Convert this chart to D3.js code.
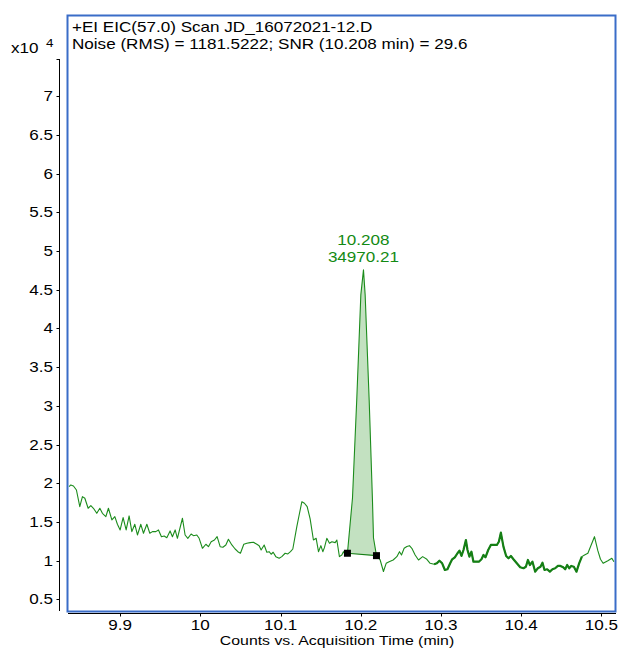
<!DOCTYPE html>
<html>
<head>
<meta charset="utf-8">
<script src="https://cdn.jsdelivr.net/npm/d3@7"></script>
<style>
  html, body { margin: 0; padding: 0; background: #fff; }
  svg { display: block; }
  text { font-family: "Liberation Sans", Arial, sans-serif; }
</style>
</head>
<body>
<svg id="chart" width="619" height="648"></svg>
<script>
// ---- data (retention time in min, abundance in counts) ----
const times = [
  9.8364, 9.8385, 9.8418, 9.8455, 9.8497, 9.8530, 9.8560, 9.8601, 9.8635, 9.8667,
  9.8709, 9.8747, 9.8779, 9.8822, 9.8854, 9.8897, 9.8934, 9.8966, 9.9000, 9.9037,
  9.9075, 9.9112, 9.9146, 9.9183, 9.9216, 9.9258, 9.9291, 9.9333, 9.9370, 9.9403,
  9.9445, 9.9478, 9.9515, 9.9549, 9.9582, 9.9623, 9.9652, 9.9686, 9.9714, 9.9777,
  9.9810, 9.9844, 9.9885, 9.9914, 9.9956, 9.9985, 10.0026, 10.0069, 10.0101, 10.0135,
  10.0176, 10.0209, 10.0247, 10.0281, 10.0318, 10.0350, 10.0393, 10.0434, 10.0468, 10.0500,
  10.0542, 10.0580, 10.0621, 10.0662, 10.0705, 10.0733, 10.0758, 10.0796, 10.0829, 10.0858,
  10.0883, 10.0908, 10.0941, 10.0983, 10.1016, 10.1057, 10.1091, 10.1124, 10.1153, 10.1203,
  10.1232, 10.1266, 10.1298, 10.1332, 10.1369, 10.1410, 10.1444, 10.1473, 10.1503, 10.1527,
  10.1547, 10.1577, 10.1610, 10.1640, 10.1681, 10.1702, 10.1734, 10.1764, 10.1784, 10.1809,
  10.1834, 10.1897, 10.1951, 10.2001, 10.2034, 10.2055, 10.2105, 10.2146, 10.2159, 10.2196,
  10.2242, 10.2283, 10.2317, 10.2354, 10.2404, 10.2450, 10.2483, 10.2508, 10.2541, 10.2575,
  10.2607, 10.2637, 10.2678, 10.2720, 10.2772, 10.2824, 10.2865, 10.2915, 10.2949, 10.2981,
  10.3015, 10.3049, 10.3081, 10.3115, 10.3140, 10.3173, 10.3206, 10.3231, 10.3256, 10.3281,
  10.3311, 10.3331, 10.3355, 10.3380, 10.3405, 10.3439, 10.3473, 10.3505, 10.3530, 10.3555,
  10.3589, 10.3622, 10.3663, 10.3697, 10.3722, 10.3747, 10.3779, 10.3813, 10.3842, 10.3872,
  10.3904, 10.3946, 10.3988, 10.4029, 10.4059, 10.4084, 10.4109, 10.4141, 10.4175, 10.4208,
  10.4241, 10.4266, 10.4291, 10.4324, 10.4358, 10.4390, 10.4424, 10.4458, 10.4490, 10.4524,
  10.4549, 10.4574, 10.4599, 10.4624, 10.4657, 10.4690, 10.4723, 10.4757, 10.4790, 10.4832,
  10.4873, 10.4914, 10.4956, 10.4989, 10.5022, 10.5081, 10.5131, 10.5156
];
const counts = [
  19560, 19780, 19650, 19130, 16980, 18270, 18060, 16770, 17110, 16770,
  16120, 16770, 16120, 15690, 16770, 15260, 15690, 14700, 13970, 15560,
  13970, 15780, 13750, 14700, 13320, 14700, 13540, 14700, 13540, 13750,
  13750, 13970, 13100, 13190, 12970, 13840, 13100, 13970, 12890, 15480,
  13320, 12890, 13450, 13230, 13320, 12890, 11600, 12120, 11810, 12450,
  12670, 13100, 11810, 11730, 12030, 12760, 12030, 11510, 11160, 10960,
  12120, 12250, 12330, 12380, 12120, 11940, 11380, 12030, 11090, 11160,
  10830, 11090, 10520, 10310, 10520, 10960, 10870, 11160, 11510, 14390,
  15900, 17620, 17420, 16980, 15390, 12670, 12890, 11160, 11940, 11160,
  11680, 12890, 12250, 12450, 12330, 12670, 10520, 10740, 11160, 10740,
  10960, 18100, 31020, 44330, 47560, 44330, 30760, 17840, 12930, 10650,
  10090, 8600, 9660, 9870, 10090, 10520, 11160, 10740, 11600, 11830,
  11940, 11600, 10740, 10090, 10520, 10180, 9660, 9530, 9660, 10000,
  9660, 8800, 8890, 9660, 10180, 10440, 10960, 11290, 10610, 11380,
  12670, 11380, 10520, 11160, 9870, 9870, 9870, 10180, 10740, 10440,
  11380, 12030, 12030, 12030, 12450, 13620, 11810, 10610, 10310, 10610,
  10180, 9660, 9150, 9020, 9220, 10090, 9440, 9870, 8580, 9020,
  9220, 9740, 8800, 8890, 8580, 8890, 9020, 9320, 9320, 9150,
  8890, 9440, 9020, 9320, 9220, 8580, 9660, 10520, 10740, 10960,
  12030, 13100, 11290, 10180, 9660, 10000, 10310, 9870
];
// integrated peak: start / end of the integration window
const peakStart = [10.1834, 10960];
const peakEnd = [10.2196, 10650];
const peakLabel = ["10.208", "34970.21"];
const peakApex = [10.2034, 47560];
// segment of the trace drawn with a heavier stroke
const heavyRange = [10.2900, 10.4760];

const xTicks = [9.9, 10.0, 10.1, 10.2, 10.3, 10.4, 10.5];
const xTickLabels = ["9.9", "10", "10.1", "10.2", "10.3", "10.4", "10.5"];
const yTicks = [5000, 10000, 15000, 20000, 25000, 30000, 35000, 40000, 45000, 50000, 55000, 60000, 65000, 70000];
const yTickLabels = ["0.5", "1", "1.5", "2", "2.5", "3", "3.5", "4", "4.5", "5", "5.5", "6", "6.5", "7"];
const headerLines = [
  "+EI EIC(57.0) Scan JD_16072021-12.D",
  "Noise (RMS) = 1181.5222; SNR (10.208 min) = 29.6"
];
const xTitle = "Counts vs. Acquisition Time (min)";
const yExponentBase = "x10";
const yExponent = "4";

// ---- drawing ----
const svg = d3.select("#chart");
const SX = 1.22; // horizontal stretch of the original text
const FS = 14;
const green = "#1c8c1c";

const x = d3.scaleLinear().domain([9.835, 10.517]).range([68, 615]);
const y = d3.scaleLinear().domain([3500, 74800]).range([611, 59]);

const data = times.map((t, i) => ({ t, v: counts[i] }));

function label(g, txt, px, py, anchor, size, fill) {
  return g.append("text")
    .attr("transform", `translate(${px},${py}) scale(${SX},1)`)
    .attr("text-anchor", anchor || "start")
    .attr("font-size", size || FS)
    .attr("fill", fill || "#000")
    .text(txt);
}

svg.append("defs").append("clipPath").attr("id", "plotclip")
  .append("rect").attr("x", 68).attr("y", 16).attr("width", 547).attr("height", 595);

// y axis
const yAxisG = svg.append("g").attr("transform", "translate(59.5,0)");
yAxisG.append("line").attr("x1", 0).attr("x2", 0)
  .attr("y1", y.range()[1]).attr("y2", y.range()[0])
  .attr("stroke", "#000").attr("stroke-width", 1);
yAxisG.append("line").attr("x1", -3).attr("x2", 0)
  .attr("y1", y.range()[1] + 0.5).attr("y2", y.range()[1] + 0.5)
  .attr("stroke", "#000");
yTicks.forEach((v, i) => {
  const yy = Math.round(y(v)) + 0.5;
  yAxisG.append("line").attr("x1", -3).attr("x2", 0).attr("y1", yy).attr("y2", yy).attr("stroke", "#000");
  label(svg, yTickLabels[i], 53, y(v) + 5, "end");
});

// x axis
const xAxisG = svg.append("g").attr("transform", "translate(0,613.5)");
xAxisG.append("line").attr("x1", x.range()[0]).attr("x2", 616)
  .attr("y1", 0).attr("y2", 0).attr("stroke", "#000").attr("stroke-width", 1.2);
xTicks.forEach((t, i) => {
  const xx = Math.round(x(t)) + 0.5;
  xAxisG.append("line").attr("x1", xx).attr("x2", xx).attr("y1", 0).attr("y2", 3).attr("stroke", "#000");
  label(svg, xTickLabels[i], x(t), 630, "middle");
});
label(svg, xTitle, 337, 645.3, "middle", 13);

// exponent
label(svg, yExponentBase, 11, 53, "start");
label(svg, yExponent, 46, 47, "start", 11);

// plot contents
const plot = svg.append("g").attr("clip-path", "url(#plotclip)");

// integrated peak area
const inPeak = data.filter(d => d.t >= peakStart[0] - 1e-6 && d.t <= peakEnd[0] + 1e-6);
const areaPts = inPeak.map(d => [x(d.t), y(d.v)]);
plot.append("path")
  .attr("d", d3.line()(areaPts) + "Z")
  .attr("fill", "#c3e1c1")
  .attr("stroke", "none");

// trace
const line = d3.line().x(d => x(d.t)).y(d => y(d.v));
plot.append("path")
  .attr("d", line(data))
  .attr("fill", "none")
  .attr("stroke", green)
  .attr("stroke-width", 1.1)
  .attr("stroke-linejoin", "round");
plot.append("path")
  .attr("d", line(data.filter(d => d.t >= heavyRange[0] && d.t <= heavyRange[1])))
  .attr("fill", "none")
  .attr("stroke", "#157f15")
  .attr("stroke-width", 2.2)
  .attr("stroke-linejoin", "round");

// baseline
plot.append("line")
  .attr("x1", x(peakStart[0])).attr("y1", y(peakStart[1]))
  .attr("x2", x(peakEnd[0])).attr("y2", y(peakEnd[1]))
  .attr("stroke", "#157f15").attr("stroke-width", 1.2);
[peakStart, peakEnd].forEach(p => {
  plot.append("rect")
    .attr("x", x(p[0]) - 3.5).attr("y", y(p[1]) - 3.5)
    .attr("width", 7).attr("height", 7)
    .attr("fill", "#000");
});

// peak label
label(svg, peakLabel[0], x(peakApex[0]), y(peakApex[1]) - 25, "middle", FS, "#138a13");
label(svg, peakLabel[1], x(peakApex[0]), y(peakApex[1]) - 8, "middle", FS, "#138a13");

// frame
svg.append("rect")
  .attr("x", 67.5).attr("y", 15.5).attr("width", 548).attr("height", 596)
  .attr("fill", "none").attr("stroke", "#3a6dc8").attr("stroke-width", 2);

// header
label(svg, headerLines[0], 72, 32, "start");
label(svg, headerLines[1], 72, 49, "start");
</script>
</body>
</html>
